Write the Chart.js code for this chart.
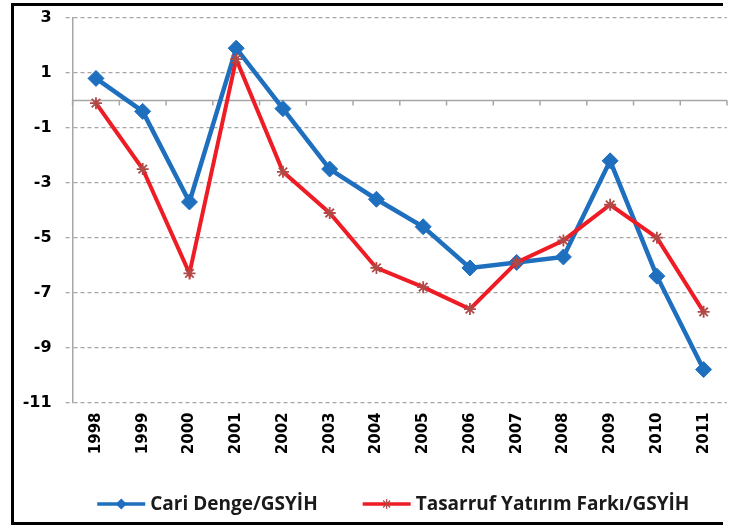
<!DOCTYPE html>
<html><head><meta charset="utf-8">
<script src="https://cdn.jsdelivr.net/npm/chart.js@4.4.0/dist/chart.umd.min.js"></script>
<style>
html,body{margin:0;padding:0;background:#fff;overflow:hidden;width:736px;height:527px}
#wrap{position:relative;width:736px;height:527px}
#frame{position:absolute;left:11px;top:3px;width:712px;height:522px;box-sizing:border-box;border:3px solid #000;border-right:none;pointer-events:none}
canvas{position:absolute;left:0;top:0}
</style></head><body>
<div id="wrap"><canvas id="c" width="736" height="527"></canvas><div id="frame"></div></div>
<script>
const years = ['1998','1999','2000','2001','2002','2003','2004','2005','2006','2007','2008','2009','2010','2011'];
const cariDenge = [0.8,-0.4,-3.7,1.9,-0.3,-2.5,-3.6,-4.6,-6.1,-5.9,-5.7,-2.2,-6.4,-9.8];
const tasarrufYatirimFarki = [-0.1,-2.5,-6.3,1.5,-2.6,-4.1,-6.1,-6.8,-7.6,-5.9,-5.1,-3.8,-5.0,-7.7];
const yMin = -11, yMax = 3, yStep = 2;
const seriesNames = ['Cari Denge/GSYİH','Tasarruf Yatırım Farkı/GSYİH'];

const BLUE = '#1f6fbf', RED = '#ee1c24', RED_MARK = '#b04a48';

const zeroLine = {
  id: 'zeroLine',
  beforeDatasetsDraw(chart) {
    const {ctx, chartArea: a, scales: {x, y}} = chart;
    const y0 = y.getPixelForValue(0);
    const half = (x.getPixelForValue(1) - x.getPixelForValue(0)) / 2;
    ctx.save();
    ctx.strokeStyle = '#a6a6a6';
    ctx.lineWidth = 1.5;
    ctx.setLineDash([]);
    ctx.beginPath();
    ctx.moveTo(a.left, y0); ctx.lineTo(a.right, y0);
    for (let i = 0; i <= years.length; i++) {
      const px = x.getPixelForValue(0) - half + i * 2 * half;
      ctx.moveTo(px, y0); ctx.lineTo(px, y0 + 5);
    }
    ctx.stroke();
    ctx.restore();
  }
};

function drawMarker(ctx, style, x, y, r, color, bw) {
  ctx.save();
  if (style === 'rectRot') {
    ctx.fillStyle = color;
    ctx.beginPath();
    ctx.moveTo(x, y - r); ctx.lineTo(x + r, y); ctx.lineTo(x, y + r); ctx.lineTo(x - r, y); ctx.closePath();
    ctx.fill();
  } else {
    ctx.strokeStyle = color; ctx.lineWidth = bw;
    const d = r * Math.SQRT1_2;
    ctx.beginPath();
    ctx.moveTo(x - d, y - d); ctx.lineTo(x + d, y + d);
    ctx.moveTo(x + d, y - d); ctx.lineTo(x - d, y + d);
    ctx.moveTo(x, y - r); ctx.lineTo(x, y + r);
    ctx.stroke();
  }
  ctx.restore();
}

const lineLegend = {
  id: 'lineLegend',
  afterDraw(chart) {
    const ctx = chart.ctx;
    const ds = chart.data.datasets;
    ctx.save();
    ctx.font = '700 19px "Open Sans"';
    ctx.textBaseline = 'middle';
    const lineLen = 48, gapText = 5, gapItem = 45;
    const widths = ds.map(d => lineLen + gapText + ctx.measureText(d.label).width);
    const total = widths.reduce((s, w) => s + w, 0) + gapItem * (ds.length - 1);
    const a = chart.chartArea;
    let x = (a.left + a.right) / 2 - 6.5 - total / 2;
    const yy = chart.height - 23;
    ds.forEach((d, i) => {
      ctx.strokeStyle = d.borderColor;
      ctx.lineWidth = 3.5;
      ctx.beginPath(); ctx.moveTo(x, yy); ctx.lineTo(x + lineLen, yy); ctx.stroke();
      if (d.pointStyle === 'rectRot') drawMarker(ctx, 'rectRot', x + lineLen / 2, yy, 5.5, d.pointBackgroundColor, 0);
      else drawMarker(ctx, 'star', x + lineLen / 2, yy, 5, d.pointBorderColor, 1.2);
      ctx.fillStyle = '#1a1a1a';
      ctx.fillText(d.label, x + lineLen + gapText, yy + 1);
      x += widths[i] + gapItem;
    });
    ctx.restore();
  }
};

new Chart(document.getElementById('c'), {
  type: 'line',
  data: {
    labels: years,
    datasets: [
      {
        label: seriesNames[0], data: cariDenge, order: 2,
        borderColor: BLUE, backgroundColor: BLUE, borderWidth: 4.5,
        pointStyle: 'rectRot', pointRadius: 8, pointBackgroundColor: BLUE, pointBorderColor: BLUE, pointBorderWidth: 1,
        tension: 0
      },
      {
        label: seriesNames[1], data: tasarrufYatirimFarki, order: 1,
        borderColor: RED, backgroundColor: RED, borderWidth: 4,
        pointStyle: 'star', pointRadius: 6, pointBackgroundColor: RED_MARK, pointBorderColor: RED_MARK, pointBorderWidth: 1.8,
        tension: 0
      }
    ]
  },
  options: {
    responsive: false,
    animation: false,
    layout: {padding: {left: 0, right: 8.6, top: 18, bottom: 64.5}},
    plugins: {legend: {display: false}, tooltip: {enabled: false}},
    scales: {
      x: {
        offset: true,
        grid: {display: false, drawTicks: false},
        border: {display: false},
        ticks: {
          minRotation: 90, maxRotation: 90, padding: 10, color: '#000',
          font: {family: '"DejaVu Sans"', size: 15, weight: 'bold'}
        },
        afterFit(s) { s.height = 60; s.paddingTop = 0; s.paddingBottom = 0; s.paddingLeft = 0; s.paddingRight = 0; }
      },
      y: {
        min: yMin, max: yMax,
        ticks: {stepSize: yStep, padding: 14, color: '#000', font: {family: '"DejaVu Sans"', size: 16, weight: 'bold'}},
        grid: {color: '#a6a6a6', lineWidth: 1.3, tickLength: 7, tickBorderDash: [4, 3], drawTicks: true},
        border: {display: true, color: '#a6a6a6', width: 1.5, dash: [4, 3]},
        afterFit(s) { s.width = 72.6; s.paddingTop = 0; s.paddingBottom = 0; s.paddingLeft = 0; s.paddingRight = 0; }
      }
    }
  },
  plugins: [zeroLine, lineLegend]
});
</script>
</body></html>
